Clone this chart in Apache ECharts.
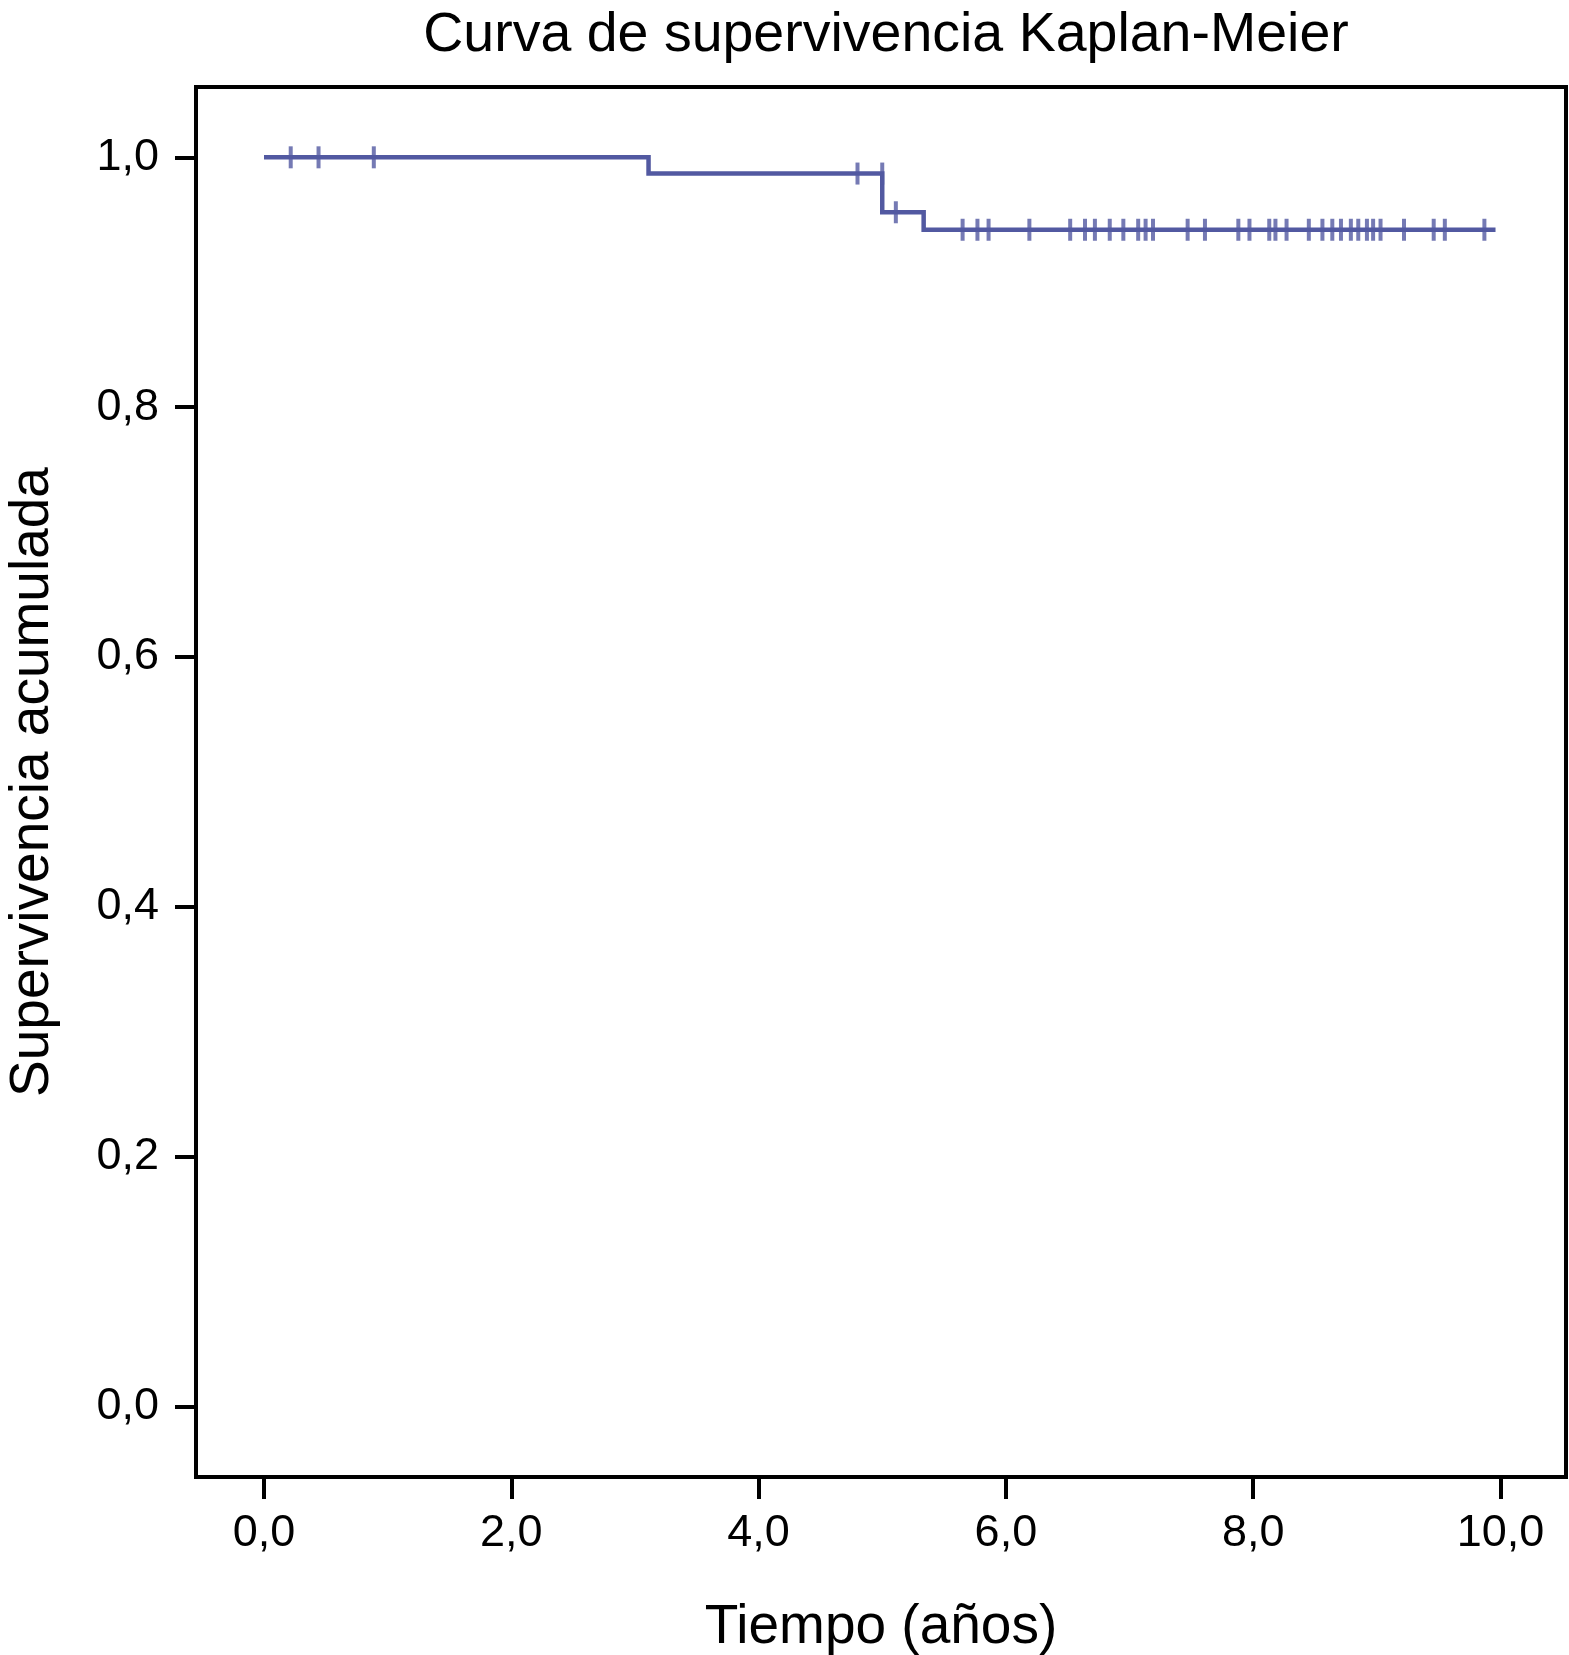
<!DOCTYPE html>
<html>
<head>
<meta charset="utf-8">
<script src="https://cdn.jsdelivr.net/npm/echarts@6/dist/echarts.min.js"></script>
<style>
html,body{margin:0;padding:0;background:#fff;}
#chart{width:1569px;height:1655px;}
</style>
</head>
<body>
<div id="chart"></div>
<script>
// Kaplan-Meier step data
const eventTimes = [3.11, 5.0, 5.335];
const survivalLevels = [1.0, 0.987, 0.956, 0.942];
const lastTime = 9.96;
const censorTimes = [0.216, 0.441, 0.888, 4.80, 5.0, 5.11,
  5.65, 5.77, 5.86, 6.19, 6.52, 6.64, 6.72, 6.84, 6.95, 7.07, 7.13, 7.19,
  7.47, 7.61, 7.88, 7.97, 8.13, 8.18, 8.27, 8.45, 8.56, 8.64, 8.71, 8.79,
  8.85, 8.92, 8.97, 9.03, 9.22, 9.46, 9.55, 9.87];
const xTicks = [0, 2, 4, 6, 8, 10];
const yTicks = [0, 0.2, 0.4, 0.6, 0.8, 1.0];

const lineColor = '#5259a1';
const font = "'Liberation Sans', Arial, Helvetica, sans-serif";

// Build step path
const stepData = [[0, survivalLevels[0]]];
eventTimes.forEach((t, i) => {
  stepData.push([t, survivalLevels[i]]);
  stepData.push([t, survivalLevels[i + 1]]);
});
stepData.push([lastTime, survivalLevels[survivalLevels.length - 1]]);

function levelAt(t) {
  let k = 0;
  eventTimes.forEach(e => { if (e < t) k++; });
  return survivalLevels[k];
}
const censorData = censorTimes.map(t => [t, levelAt(t)]);

const fmt = v => v.toFixed(1).replace('.', ',');

const chart = echarts.init(document.getElementById('chart'), null, {renderer: 'canvas'});
chart.setOption({
  animation: false,
  backgroundColor: '#fff',
  title: {
    text: 'Curva de supervivencia Kaplan-Meier',
    left: 881, top: 3, textAlign: 'center',
    textStyle: {fontFamily: font, fontSize: 55.5, fontWeight: 'normal', color: '#000'}
  },
  grid: {
    left: 196, right: 3, top: 87, bottom: 178,
    containLabel: false, outerBoundsMode: 'none',
    show: true, borderColor: '#000', borderWidth: 4, backgroundColor: 'transparent'
  },
  xAxis: {
    type: 'value', min: -0.55, max: 10.53,
    name: 'Tiempo (años)', nameLocation: 'middle', nameGap: 123,
    nameTextStyle: {fontFamily: font, fontSize: 55, color: '#000'},
    axisLine: {show: true, onZero: false, lineStyle: {color: '#000', width: 4}},
    axisTick: {show: true, customValues: xTicks, length: 22, inside: false, lineStyle: {color: '#000', width: 4}},
    axisLabel: {customValues: xTicks, formatter: fmt, margin: 34, fontFamily: font, fontSize: 45, color: '#000'},
    splitLine: {show: false}
  },
  yAxis: {
    type: 'value', min: -0.0566, max: 1.0563,
    name: 'Supervivencia acumulada', nameLocation: 'middle', nameGap: 136, nameRotate: 90,
    nameTextStyle: {fontFamily: font, fontSize: 55, color: '#000'},
    axisLine: {show: true, onZero: false, lineStyle: {color: '#000', width: 4}},
    axisTick: {show: true, customValues: yTicks, length: 21, inside: false, lineStyle: {color: '#000', width: 4}},
    axisLabel: {customValues: yTicks, formatter: fmt, margin: 37, fontFamily: font, fontSize: 45, color: '#000'},
    splitLine: {show: false}
  },
  series: [
    {
      type: 'line', data: stepData, showSymbol: false, symbol: 'none',
      lineStyle: {color: lineColor, width: 4.5, join: 'miter', cap: 'butt'},
      z: 3
    },
    {
      type: 'scatter', data: censorData, symbol: 'rect', symbolSize: [4, 22],
      itemStyle: {color: lineColor}, z: 4
    }
  ]
});
</script>
</body>
</html>
